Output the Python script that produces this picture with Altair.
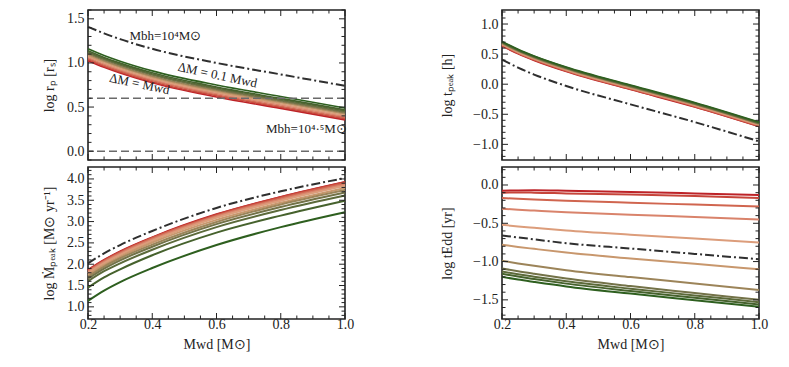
import altair as alt
import pandas as pd

# ---------------- data ----------------
X_MWD = [0.2, 0.25, 0.3, 0.4, 0.6, 0.8, 1.0]     # white-dwarf mass [Msun]
DM_FRAC = ["0.10", "0.19", "0.28", "0.37", "0.46", "0.55",
           "0.64", "0.73", "0.82", "0.91", "1.00"]  # Delta M / M_wd (green -> red)
COLORS = ["#2e5f1f", "#46622d", "#5c6a3a", "#737248", "#9c8459", "#c8976d",
          "#dc9d7b", "#d9836b", "#d0654f", "#c6443a", "#bd2227"]

# log r_p [r_s], M_bh = 10^4.5 (one row per Delta M)
RP_45 = [
    [1.160, 1.085, 1.020, 0.910, 0.750, 0.620, 0.490],
    [1.138, 1.063, 0.998, 0.888, 0.728, 0.598, 0.468],
    [1.125, 1.050, 0.985, 0.875, 0.715, 0.585, 0.455],
    [1.113, 1.038, 0.973, 0.863, 0.703, 0.573, 0.443],
    [1.100, 1.025, 0.960, 0.850, 0.690, 0.560, 0.430],
    [1.088, 1.013, 0.948, 0.838, 0.678, 0.548, 0.418],
    [1.075, 1.000, 0.935, 0.825, 0.665, 0.535, 0.405],
    [1.063, 0.988, 0.923, 0.813, 0.653, 0.523, 0.393],
    [1.050, 0.975, 0.910, 0.800, 0.640, 0.510, 0.380],
    [1.038, 0.963, 0.898, 0.788, 0.628, 0.498, 0.368],
    [1.025, 0.950, 0.885, 0.775, 0.615, 0.485, 0.355],
]
RP_4 = [1.41, 1.335, 1.27, 1.16, 1.00, 0.87, 0.74]
RP_REFS = [0.6, 0.0]

# log Mdot_peak [Msun/yr]
MDOT_45 = [
    [1.140, 1.380, 1.58, 1.91, 2.45, 2.87, 3.22],
    [1.450, 1.690, 1.88, 2.21, 2.74, 3.14, 3.49],
    [1.600, 1.835, 2.02, 2.34, 2.87, 3.27, 3.61],
    [1.660, 1.895, 2.09, 2.41, 2.94, 3.34, 3.68],
    [1.710, 1.945, 2.14, 2.46, 2.99, 3.40, 3.74],
    [1.750, 1.985, 2.18, 2.51, 3.04, 3.44, 3.79],
    [1.790, 2.025, 2.22, 2.55, 3.09, 3.49, 3.84],
    [1.820, 2.055, 2.25, 2.58, 3.12, 3.52, 3.87],
    [1.840, 2.075, 2.27, 2.61, 3.14, 3.55, 3.90],
    [1.855, 2.090, 2.29, 2.62, 3.16, 3.57, 3.92],
    [1.865, 2.100, 2.30, 2.63, 3.17, 3.58, 3.93],
]
MDOT_4 = [2.02, 2.255, 2.45, 2.78, 3.32, 3.71, 4.02]

# log t_peak [h]
TPEAK_45 = [
    [0.710, 0.580, 0.470, 0.285, -0.015, -0.305, -0.630],
    [0.703, 0.573, 0.463, 0.278, -0.023, -0.313, -0.638],
    [0.695, 0.565, 0.455, 0.270, -0.030, -0.320, -0.645],
    [0.688, 0.558, 0.448, 0.263, -0.038, -0.328, -0.653],
    [0.680, 0.550, 0.440, 0.255, -0.045, -0.335, -0.660],
    [0.673, 0.543, 0.433, 0.248, -0.053, -0.343, -0.668],
    [0.665, 0.535, 0.425, 0.240, -0.060, -0.350, -0.675],
    [0.658, 0.528, 0.418, 0.233, -0.068, -0.358, -0.683],
    [0.650, 0.520, 0.410, 0.225, -0.075, -0.365, -0.690],
    [0.643, 0.513, 0.403, 0.218, -0.083, -0.373, -0.698],
    [0.635, 0.505, 0.395, 0.210, -0.090, -0.380, -0.705],
]
TPEAK_4 = [0.41, 0.275, 0.16, -0.03, -0.335, -0.63, -0.95]

# log t_Edd [yr]
TEDD_45 = [
    [-1.200, -1.235, -1.266, -1.325, -1.418, -1.504, -1.590],
    [-1.160, -1.196, -1.228, -1.288, -1.384, -1.472, -1.560],
    [-1.130, -1.166, -1.198, -1.258, -1.354, -1.442, -1.530],
    [-1.090, -1.127, -1.160, -1.221, -1.320, -1.410, -1.500],
    [-0.990, -1.024, -1.055, -1.112, -1.203, -1.286, -1.370],
    [-0.780, -0.809, -0.834, -0.882, -0.959, -1.030, -1.100],
    [-0.520, -0.541, -0.559, -0.594, -0.649, -0.699, -0.750],
    [-0.310, -0.323, -0.334, -0.355, -0.388, -0.419, -0.450],
    [-0.170, -0.180, -0.189, -0.205, -0.232, -0.256, -0.280],
    [-0.100, -0.099, -0.100, -0.110, -0.125, -0.145, -0.170],
    [-0.075, -0.071, -0.070, -0.075, -0.090, -0.110, -0.130],
]
TEDD_4 = [-0.66, -0.685, -0.71, -0.76, -0.83, -0.90, -0.97]

# annotations in the r_p panel
ANN_TEXT = ["Mbh=10⁴M⊙", "ΔM = 0.1 Mwd", "ΔM = Mwd", "Mbh=10⁴·⁵M⊙"]
ANN_X = [0.441, 0.603, 0.360, 0.880]
ANN_Y = [1.31, 0.86, 0.76, 0.25]
ANN_ANGLE = [0, 12, 12, 0]

# axis ticks
X_MAJOR = [0.2, 0.4, 0.6, 0.8, 1.0]
X_MINOR = [0.25, 0.3, 0.35, 0.45, 0.5, 0.55, 0.65, 0.7, 0.75, 0.85, 0.9, 0.95]


def minor(lo, hi):
    return [round(k * 0.1, 1) for k in range(lo, hi + 1) if k % 5 != 0]


SERIF = "Liberation Serif"
INK = "#222222"
W = 257
H_TOP = 150
H_BOT = 152
MAJ = 6
MIN = 3.5


def series_frame(table):
    rows = []
    for k in reversed(range(len(table))):  # red first, green drawn last
        for x, y in zip(X_MWD, table[k]):
            rows.append({"m": x, "v": y, "dm": DM_FRAC[k]})
    return pd.DataFrame(rows)


def frame_ticks(xs, ys, ymajor, yminor, height):
    out = []
    for vals, ln in ((X_MAJOR, MAJ), (X_MINOR, MIN)):
        base = alt.Chart(pd.DataFrame({"t": vals})).mark_rule(color=INK, strokeWidth=1)
        xe = alt.X("t:Q", scale=xs, axis=None)
        out.append(base.encode(x=xe, y=alt.value(height), y2=alt.value(height - ln)))
        out.append(base.encode(x=xe, y=alt.value(0), y2=alt.value(ln)))
    for vals, ln in ((ymajor, MAJ), (yminor, MIN)):
        base = alt.Chart(pd.DataFrame({"t": vals})).mark_rule(color=INK, strokeWidth=1)
        ye = alt.Y("t:Q", scale=ys, axis=None)
        out.append(base.encode(y=ye, x=alt.value(0), x2=alt.value(ln)))
        out.append(base.encode(y=ye, x=alt.value(W), x2=alt.value(W - ln)))
    return out


def panel(table, dash, ydom, ymajor, yminor, ytitle, ytpad, height, lw,
          xtitle=None, refs=None, notes=False):
    xs = alt.Scale(domain=[0.2, 1.0], nice=False, zero=False)
    ys = alt.Scale(domain=ydom, nice=False, zero=False)
    df = series_frame(table)
    ddf = pd.DataFrame({"m": X_MWD, "v": dash})

    if xtitle:
        xaxis = alt.Axis(values=X_MAJOR, format=".1f", ticks=False, domain=False,
                         grid=False, labelFlush=False, labelOverlap=False,
                         labelPadding=-2, title=xtitle, titlePadding=6)
    else:
        xaxis = None
    yaxis = alt.Axis(values=ymajor, format=".1f", ticks=False, domain=False,
                     grid=False, labelFlush=False, labelOverlap=False,
                     labelPadding=4, minExtent=0, title=ytitle, titlePadding=ytpad)

    curves = alt.Chart(df).mark_line(interpolate="monotone", strokeWidth=lw).encode(
        x=alt.X("m:Q", scale=xs, axis=xaxis),
        y=alt.Y("v:Q", scale=ys, axis=yaxis),
        color=alt.Color("dm:N", scale=alt.Scale(domain=DM_FRAC, range=COLORS),
                        legend=None),
    )
    dashdot = alt.Chart(ddf).mark_line(
        interpolate="monotone", color="#2f2f2f", strokeWidth=2,
        strokeDash=[9, 3, 2, 3]).encode(
        x=alt.X("m:Q", scale=xs, axis=None),
        y=alt.Y("v:Q", scale=ys, axis=None),
    )
    layers = [curves, dashdot]
    if refs is not None:
        layers.append(alt.Chart(pd.DataFrame({"v": refs})).mark_rule(
            color="#6a6a6a", strokeDash=[8, 4], strokeWidth=1.6).encode(
            y=alt.Y("v:Q", scale=ys, axis=None)))
    if notes:
        ann = pd.DataFrame({"m": ANN_X, "v": ANN_Y, "t": ANN_TEXT, "a": ANN_ANGLE})
        layers.append(alt.Chart(ann).mark_text(
            font=SERIF, fontSize=13, color=INK).encode(
            x=alt.X("m:Q", scale=xs, axis=None),
            y=alt.Y("v:Q", scale=ys, axis=None),
            text="t:N",
            angle=alt.Angle("a:Q", scale=None)))
    layers += frame_ticks(xs, ys, ymajor, yminor, height)
    return alt.layer(*layers).resolve_axis(
        x="independent", y="independent").properties(width=W, height=height)


XT = "Mwd [M⊙]"
tl = panel(RP_45, RP_4, [-0.1, 1.6], [0.0, 0.5, 1.0, 1.5], minor(-1, 16),
           "log rₚ [rₛ]", 10, H_TOP, 1.6, refs=RP_REFS, notes=True)
bl = panel(MDOT_45, MDOT_4, [0.715, 4.28], [1.0, 1.5, 2.0, 2.5, 3.0, 3.5, 4.0],
           minor(8, 42), "log Ṁₚₑₐₖ [M⊙ yr⁻¹]", 10, H_BOT, 2, xtitle=XT)
tr = panel(TPEAK_45, TPEAK_4, [-1.26, 1.233], [-1.0, -0.5, 0.0, 0.5, 1.0],
           minor(-12, 12), "log tₚₑₐₖ [h]", 18, H_TOP, 1.6)
br = panel(TEDD_45, TEDD_4, [-1.75, 0.235], [-1.5, -1.0, -0.5, 0.0],
           minor(-17, 2), "log tEdd [yr]", 18, H_BOT, 2, xtitle=XT)

left = alt.vconcat(tl, bl, spacing=3)
right = alt.vconcat(tr, br, spacing=3)

chart = alt.hconcat(left, right, spacing=84).properties(
    padding={"left": 33, "top": 0, "right": 4, "bottom": 0}
).configure_view(
    stroke=INK, strokeWidth=1.6
).configure_axis(
    labelFont=SERIF, titleFont=SERIF, labelFontSize=14, titleFontSize=14,
    labelColor=INK, titleColor=INK, titleFontWeight="normal"
)

chart.save("out.html", embed_options={"renderer": "svg", "actions": False})
